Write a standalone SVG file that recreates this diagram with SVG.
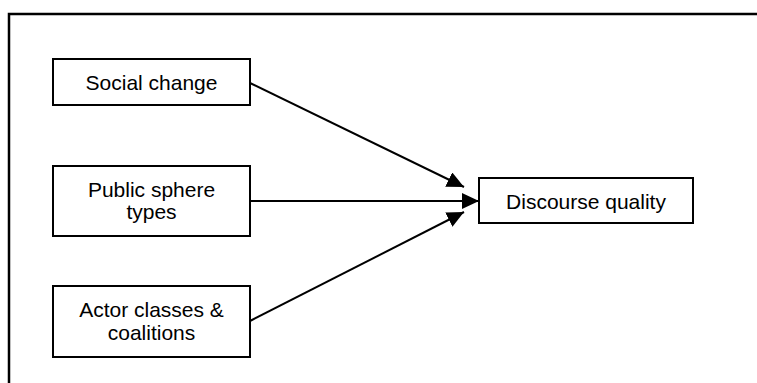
<svg xmlns="http://www.w3.org/2000/svg" width="757" height="383" viewBox="0 0 757 383">
<style>
.box{fill:#fff;stroke:#000;stroke-width:2}
.lbl{font-family:"Liberation Sans",Arial,sans-serif;font-size:21px;fill:#000;text-anchor:middle}
.edge{stroke:#000;stroke-width:2;fill:none}
</style>
<defs>
<marker id="ah" markerUnits="userSpaceOnUse" markerWidth="18" markerHeight="16" refX="17" refY="8" orient="auto">
<path d="M0,0 L17,8 L0,16 Z" fill="#000"/>
</marker>
</defs>
<rect x="9" y="14" width="800" height="500" fill="#fff" stroke="#000" stroke-width="2.5"/>
<g id="connectors">
<line class="edge" x1="250" y1="83" x2="464" y2="187" marker-end="url(#ah)"/>
<line class="edge" x1="250" y1="201" x2="479" y2="201" marker-end="url(#ah)"/>
<line class="edge" x1="250" y1="321" x2="464" y2="212" marker-end="url(#ah)"/>
</g>
<g id="social-change">
<rect class="box" x="53" y="59" width="197" height="46"/>
<text class="lbl" x="151.5" y="90">Social change</text>
</g>
<g id="public-sphere-types">
<rect class="box" x="53" y="166" width="197" height="70"/>
<text class="lbl" x="151.5" y="197">Public sphere</text>
<text class="lbl" x="151.5" y="219">types</text>
</g>
<g id="actor-classes">
<rect class="box" x="53" y="286" width="197" height="71"/>
<text class="lbl" x="151.5" y="317">Actor classes &amp;</text>
<text class="lbl" x="151.5" y="340">coalitions</text>
</g>
<g id="discourse-quality">
<rect class="box" x="479" y="178" width="214" height="45"/>
<text class="lbl" x="586" y="209">Discourse quality</text>
</g>
</svg>
